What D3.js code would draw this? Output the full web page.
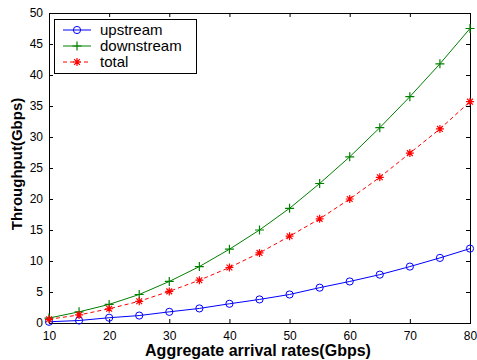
<!DOCTYPE html>
<html><head><meta charset="utf-8">
<script src="https://cdn.jsdelivr.net/npm/d3@7"></script>
<style>body{margin:0;background:#fff}svg{display:block}</style>
</head><body>
<script>
const rates = [10,15,20,25,30,35,40,45,50,55,60,65,70,75,80];
const upstream = [0.2,0.4,0.85,1.2,1.8,2.35,3.1,3.8,4.6,5.7,6.7,7.8,9.1,10.5,12.0];
const downstream = [0.8,1.8,3.0,4.6,6.7,9.1,11.9,15.0,18.5,22.5,26.8,31.5,36.5,41.8,47.5];
const total = [0.6,1.3,2.3,3.5,5.1,6.9,8.95,11.3,14.0,16.8,20.0,23.5,27.4,31.3,35.7];
const xTicks = [10,20,30,40,50,60,70,80];
const yTicks = [0,5,10,15,20,25,30,35,40,45,50];
const seriesNames = ["upstream","downstream","total"];
const seriesColors = ["#0000ff","#008000","#ff0000"];

const W=477,H=360;
const svg=d3.select("body").append("svg").attr("width",W).attr("height",H)
  .style("font-family","Arial, 'Liberation Sans', sans-serif");
const x=d3.scaleLinear().domain([10,80]).range([49,470]);
const y=d3.scaleLinear().domain([0,50]).range([323,13]);

// frame
svg.append("rect").attr("x",x(10)).attr("y",y(50)).attr("width",x(80)-x(10)).attr("height",y(0)-y(50))
  .attr("fill","#fff").attr("stroke","#000").attr("stroke-width",1).attr("shape-rendering","crispEdges");

// axes with inward ticks
const ax=svg.append("g").attr("transform",`translate(0,${y(0)})`)
  .call(d3.axisBottom(x).tickValues(xTicks).tickSizeInner(-4).tickSizeOuter(0).tickPadding(8));
const axT=svg.append("g").attr("transform",`translate(0,${y(50)})`)
  .call(d3.axisTop(x).tickValues(xTicks).tickSizeInner(-4).tickSizeOuter(0).tickFormat(""));
const ay=svg.append("g").attr("transform",`translate(${x(10)},0)`)
  .call(d3.axisLeft(y).tickValues(yTicks).tickSizeInner(-4).tickSizeOuter(0).tickPadding(6));
const ayR=svg.append("g").attr("transform",`translate(${x(80)},0)`)
  .call(d3.axisRight(y).tickValues(yTicks).tickSizeInner(-4).tickSizeOuter(0).tickFormat(""));
[ax,axT,ay,ayR].forEach(g=>{
  g.select(".domain").attr("stroke","#000");
  g.selectAll(".tick line").attr("stroke","#000");
  g.selectAll("text").attr("font-size","12px").attr("fill","#000").attr("font-family","Arial, 'Liberation Sans', sans-serif");
});

// titles
svg.append("text").attr("x",258).attr("y",356).attr("text-anchor","middle")
  .attr("font-size","16px").attr("font-weight","bold").text("Aggregate arrival rates(Gbps)");
svg.append("text").attr("transform","translate(22,164) rotate(-90)").attr("text-anchor","middle")
  .attr("font-size","15px").attr("font-weight","bold").text("Throughput(Gbps)");

const datasets=[upstream,downstream,total];
const line=d3.line().x(d=>x(d[0])).y(d=>y(d[1]));

function marker(g,type,cx,cy,color){
  if(type===0){
    g.append("circle").attr("cx",cx).attr("cy",cy).attr("r",3.6).attr("fill","none").attr("stroke",color).attr("stroke-width",1);
  } else if(type===1){
    g.append("path").attr("d",`M${cx-4.5},${cy}H${cx+4.5}M${cx},${cy-4.5}V${cy+4.5}`).attr("stroke",color).attr("stroke-width",1.2);
  } else {
    const r=4,d=2.9;
    g.append("path").attr("d",`M${cx-r},${cy}H${cx+r}M${cx},${cy-r}V${cy+r}M${cx-d},${cy-d}L${cx+d},${cy+d}M${cx-d},${cy+d}L${cx+d},${cy-d}`)
      .attr("stroke",color).attr("stroke-width",1.2);
  }
}

const plot=svg.append("g");
datasets.forEach((vals,i)=>{
  const pts=rates.map((r,j)=>[r,vals[j]]);
  plot.append("path").attr("d",line(pts)).attr("fill","none").attr("stroke",seriesColors[i])
    .attr("stroke-width",1).attr("stroke-dasharray",i===2?"4,3":null);
  const mg=plot.append("g");
  pts.forEach(p=>marker(mg,i,x(p[0]),y(p[1]),seriesColors[i]));
});

// legend
const lg=svg.append("g");
lg.append("rect").attr("x",54.5).attr("y",19.5).attr("width",142).attr("height",54)
  .attr("fill","#fff").attr("stroke","#000").attr("stroke-width",1);
seriesNames.forEach((n,i)=>{
  const ly=30+i*16;
  lg.append("line").attr("x1",63).attr("x2",91).attr("y1",ly).attr("y2",ly)
    .attr("stroke",seriesColors[i]).attr("stroke-width",1).attr("stroke-dasharray",i===2?"4,3":null);
  marker(lg,i,77,ly,seriesColors[i]);
  lg.append("text").attr("x",100).attr("y",ly+5).attr("font-size","15px").attr("fill","#000").text(n);
});
</script>
</body></html>
